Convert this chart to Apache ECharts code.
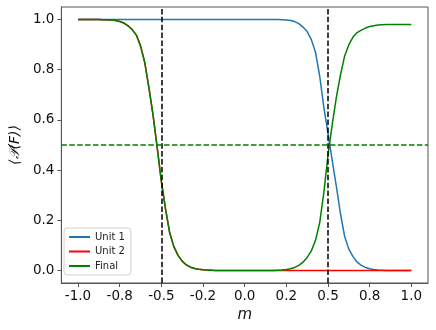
<!DOCTYPE html>
<html>
<head>
<meta charset="utf-8">
<script src="https://cdn.jsdelivr.net/npm/echarts@6/dist/echarts.min.js"></script>
<style>
  html, body { margin: 0; padding: 0; background: #fff; }
  #chart { width: 436px; height: 330px; }
</style>
</head>
<body>
<div id="chart"></div>
<script>
// m grid
var mVals = [
  -1.000, -0.975, -0.950, -0.925, -0.900, -0.875, -0.850, -0.825, -0.800, -0.775,
  -0.750, -0.725, -0.700, -0.675, -0.650, -0.625, -0.600, -0.575, -0.550, -0.525,
  -0.500, -0.475, -0.450, -0.425, -0.400, -0.375, -0.350, -0.325, -0.300, -0.275,
  -0.250, -0.225, -0.200, -0.175, -0.150, -0.125, -0.100, -0.075, -0.050, -0.025,
   0.000,  0.025,  0.050,  0.075,  0.100,  0.125,  0.150,  0.175,  0.200,  0.225,
   0.250,  0.275,  0.300,  0.325,  0.350,  0.375,  0.400,  0.425,  0.450,  0.475,
   0.500,  0.525,  0.550,  0.575,  0.600,  0.625,  0.650,  0.675,  0.700,  0.725,
   0.750,  0.775,  0.800,  0.825,  0.850,  0.875,  0.900,  0.925,  0.950,  0.975,
   1.000
];
var unit1 = [
  1.000, 1.000, 1.000, 1.000, 1.000, 1.000, 1.000, 1.000, 1.000, 1.000,
  1.000, 1.000, 1.000, 1.000, 1.000, 1.000, 1.000, 1.000, 1.000, 1.000,
  1.000, 1.000, 1.000, 1.000, 1.000, 1.000, 1.000, 1.000, 1.000, 1.000,
  1.000, 1.000, 1.000, 1.000, 1.000, 1.000, 1.000, 1.000, 1.000, 1.000,
  1.000, 1.000, 1.000, 1.000, 1.000, 1.000, 1.000, 1.000, 1.000, 0.999,
  0.998, 0.996, 0.992, 0.984, 0.970, 0.952, 0.920, 0.870, 0.775, 0.650,
  0.545, 0.440, 0.335, 0.225, 0.135, 0.085, 0.055, 0.033, 0.020, 0.012,
  0.007, 0.004, 0.002, 0.001, 0.000, 0.000, 0.000, 0.000, 0.000, 0.000,
  0.000
];
var unit2 = [
  1.000, 1.000, 1.000, 1.000, 1.000, 1.000, 0.999, 0.999, 0.998, 0.996,
  0.992, 0.986, 0.975, 0.960, 0.938, 0.895, 0.830, 0.730, 0.620, 0.490,
  0.355, 0.245, 0.150, 0.095, 0.060, 0.037, 0.022, 0.013, 0.008, 0.005,
  0.003, 0.002, 0.001, 0.000, 0.000, 0.000, 0.000, 0.000, 0.000, 0.000,
  0.000, 0.000, 0.000, 0.000, 0.000, 0.000, 0.000, 0.000, 0.000, 0.000,
  0.000, 0.000, 0.000, 0.000, 0.000, 0.000, 0.000, 0.000, 0.000, 0.000,
  0.000, 0.000, 0.000, 0.000, 0.000, 0.000, 0.000, 0.000, 0.000, 0.000,
  0.000, 0.000, 0.000, 0.000, 0.000, 0.000, 0.000, 0.000, 0.000, 0.000,
  0.000
];
var finalP = [
  1.000, 1.000, 1.000, 1.000, 1.000, 1.000, 0.999, 0.999, 0.998, 0.996,
  0.992, 0.986, 0.975, 0.960, 0.938, 0.895, 0.830, 0.730, 0.620, 0.490,
  0.355, 0.245, 0.150, 0.095, 0.060, 0.037, 0.022, 0.013, 0.008, 0.005,
  0.003, 0.002, 0.001, 0.000, 0.000, 0.000, 0.000, 0.000, 0.000, 0.000,
  0.000, 0.000, 0.000, 0.000, 0.000, 0.000, 0.000, 0.000, 0.001, 0.002,
  0.004, 0.007, 0.012, 0.020, 0.033, 0.052, 0.078, 0.120, 0.190, 0.310,
  0.460, 0.580, 0.690, 0.780, 0.855, 0.900, 0.930, 0.948, 0.958, 0.966,
  0.972, 0.975, 0.978, 0.979, 0.980, 0.980, 0.980, 0.980, 0.980, 0.980,
  0.980
];
var vLines = [-0.5, 0.5];
var hLine = 0.5;
var xTickVals = [-1.0, -0.75, -0.5, -0.25, 0.0, 0.25, 0.5, 0.75, 1.0];
var xTickLabels = ['-1.0', '-0.8', '-0.5', '-0.2', '0.0', '0.2', '0.5', '0.8', '1.0'];
var yTickVals = [0.0, 0.2, 0.4, 0.6, 0.8, 1.0];
var yTickLabels = ['0.0', '0.2', '0.4', '0.6', '0.8', '1.0'];

function pairs(ys) {
  return mVals.map(function (m, i) { return [m, ys[i]]; });
}

var chart = echarts.init(document.getElementById('chart'));
var font = 'DejaVu Sans';
var axisCol = '#555';

var option = {
  animation: false,
  grid: {
    left: 60, right: 8, top: 7, bottom: 47,
    show: true, borderColor: axisCol, borderWidth: 1
  },
  legend: {
    orient: 'vertical',
    left: 64, top: 228,
    padding: [4, 6, 4, 5],
    itemGap: 4.5,
    itemWidth: 21, itemHeight: 2,
    icon: 'rect',
    backgroundColor: '#fff',
    borderColor: '#d0d0d0', borderWidth: 1, borderRadius: 3,
    textStyle: { fontFamily: font, fontSize: 10, color: '#222' },
    data: ['Unit 1', 'Unit 2', 'Final']
  },
  xAxis: {
    type: 'value', min: -1.1, max: 1.1,
    name: 'm', nameLocation: 'middle', nameGap: 21,
    nameTextStyle: { fontFamily: font, fontSize: 15, fontStyle: 'italic', color: '#111' },
    axisLine: { show: true, onZero: false, lineStyle: { color: axisCol, width: 1 } },
    axisTick: { show: true, length: 4, lineStyle: { color: axisCol }, customValues: xTickVals },
    axisLabel: {
      fontFamily: font, fontSize: 13.5, color: '#111', margin: 6,
      customValues: xTickVals,
      formatter: function (v) {
        var i = xTickVals.indexOf(v);
        return i >= 0 ? xTickLabels[i] : '';
      }
    },
    splitLine: { show: false }
  },
  yAxis: {
    type: 'value', min: -0.05, max: 1.05,
    name: '\u27E8\uD835\uDCAB(F)\u27E9', nameLocation: 'middle', nameGap: 35, nameRotate: 90,
    nameTextStyle: { fontFamily: font, fontSize: 14, fontStyle: 'italic', color: '#111' },
    axisLine: { show: true, onZero: false, lineStyle: { color: axisCol, width: 1 } },
    axisTick: { show: true, length: 4, lineStyle: { color: axisCol }, customValues: yTickVals },
    axisLabel: {
      fontFamily: font, fontSize: 13.5, color: '#111', margin: 7,
      customValues: yTickVals,
      formatter: function (v) {
        var i = yTickVals.indexOf(v);
        return i >= 0 ? yTickLabels[i] : '';
      }
    },
    splitLine: { show: false }
  },
  series: [
    {
      name: 'Unit 1', type: 'line', data: pairs(unit1),
      showSymbol: false, smooth: false,
      itemStyle: { color: '#1f77b4' },
      lineStyle: { color: '#1f77b4', width: 1.5 }
    },
    {
      name: 'Unit 2', type: 'line', data: pairs(unit2),
      showSymbol: false, smooth: false,
      itemStyle: { color: '#ff0000' },
      lineStyle: { color: '#ff0000', width: 1.5 }
    },
    {
      name: 'Final', type: 'line', data: pairs(finalP),
      showSymbol: false, smooth: false,
      itemStyle: { color: '#008000' },
      lineStyle: { color: '#008000', width: 1.5 },
      markLine: {
        silent: true, symbol: 'none',
        label: { show: false },
        data: [
          { xAxis: vLines[0], lineStyle: { color: '#000', type: [5.5, 2.4], width: 1.5 } },
          { xAxis: vLines[1], lineStyle: { color: '#000', type: [5.5, 2.4], width: 1.5 } },
          { yAxis: hLine, lineStyle: { color: '#008000', type: [5.5, 2.4], width: 1.5 } }
        ]
      }
    }
  ]
};
chart.setOption(option);
</script>
</body>
</html>
